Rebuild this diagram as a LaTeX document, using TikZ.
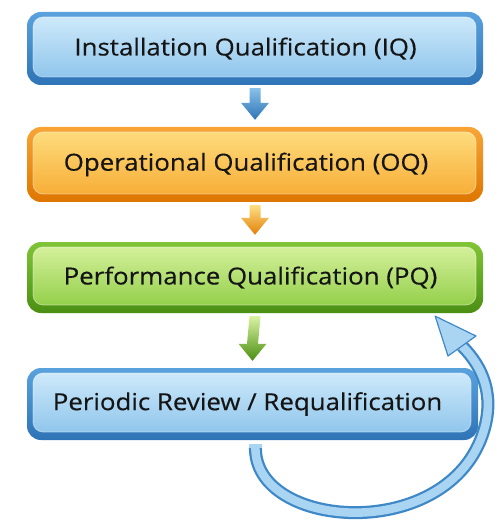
\documentclass[tikz,border=0pt]{standalone}
\usepackage{fontspec}
\setmainfont[FakeStretch=1.1, FakeBold=0.35]{Open Sans}
\usetikzlibrary{calc}
\definecolor{txt}{HTML}{151515}
\definecolor{bOutT}{HTML}{5AA2DE}\definecolor{bOutB}{HTML}{2E74B6}
\definecolor{bInT}{HTML}{D2ECFB}\definecolor{bInB}{HTML}{88C1EA}
\definecolor{oOutT}{HTML}{F8A535}\definecolor{oOutB}{HTML}{DD7600}
\definecolor{oInT}{HTML}{FEDF82}\definecolor{oInB}{HTML}{F7A82E}
\definecolor{gOutT}{HTML}{80C536}\definecolor{gOutB}{HTML}{4A8F12}
\definecolor{gInT}{HTML}{DAF3A2}\definecolor{gInB}{HTML}{8BCB40}
\definecolor{loopDark}{HTML}{3F88C8}\definecolor{loopLight}{HTML}{A9D5F3}
\tikzset{
  stage/.style n args={4}{rounded corners=14pt, inner sep=0pt, minimum width=456pt,
    font=\fontsize{23.5}{28}\selectfont, text=txt,
    top color=#1, bottom color=#2,
    path picture={
      \shade[rounded corners=10pt, top color=#3, bottom color=#4, draw=white, draw opacity=0.45, line width=0.8pt]
        ([shift={(6pt,-5pt)}]path picture bounding box.north west) rectangle
        ([shift={(-7pt,8pt)}]path picture bounding box.south east);
    }},
  bluebox/.style={stage={bOutT}{bOutB}{bInT}{bInB}},
  orangebox/.style={stage={oOutT}{oOutB}{oInT}{oInB}},
  greenbox/.style={stage={gOutT}{gOutB}{gInT}{gInB}},
}
\newcommand\blockarrow[4]{%
  \shade[top color=#3, bottom color=#4]
    ($(#1.south)+(-5.5pt,-3pt)$) -- ($(#2.north)+(-5.5pt,24pt)$) -- ($(#2.north)+(-14pt,24pt)$)
    -- ($(#2.north)+(0pt,7pt)$) -- ($(#2.north)+(14pt,24pt)$) -- ($(#2.north)+(5.5pt,24pt)$)
    -- ($(#1.south)+(5.5pt,-3pt)$) -- cycle;}
\begin{document}
\begin{tikzpicture}[x=1pt,y=-1pt]
\useasboundingbox (0,0) rectangle (501,529);
\node[bluebox, minimum height=73pt] (iq) at (255,48.5) {\hspace*{-19pt}Installation Qualification (IQ)};
\node[orangebox, minimum height=75pt] (oq) at (255,164.5) {\hspace*{-18pt}Operational Qualification (OQ)};
\node[greenbox, minimum height=71pt] (pq) at (255,277.5) {\hspace*{-9pt}Performance Qualification (PQ)};
\node[bluebox, minimum height=72pt, minimum width=451pt] (pr) at (252.5,404) {\hspace*{-10pt}Periodic Review / Requalification};
\blockarrow{iq}{oq}{bInB}{bOutB}
\blockarrow{oq}{pq}{oInT}{oOutB!80!oInB}
\blockarrow{pq}{pr}{gInT}{gOutB}
% loop arrow
\coordinate (ls) at ($(pr.south)+(3pt,-6pt)$);
\coordinate (lb) at (462,346);
\coordinate (tip) at ($(pq.south east)+(-48pt,-3pt)$);
\draw[loopDark, line width=13pt] (ls) .. controls (252,530) and (450,545) .. (484,430)
   .. controls (494,396) and (484,368) .. (lb);
\draw[loopLight, line width=8.5pt] (ls) .. controls (252,530) and (450,545) .. (484,430)
   .. controls (494,396) and (484,368) .. (lb);
\fill[loopLight] ($(pr.south)+(-3.5pt,-4pt)$) rectangle ($(pr.south)+(9.5pt,-8pt)$);
\filldraw[fill=loopLight, draw=loopDark, line width=1.2pt, line join=round]
   (tip) -- (476,336) -- (448,356) -- cycle;
\end{tikzpicture}
\end{document}
